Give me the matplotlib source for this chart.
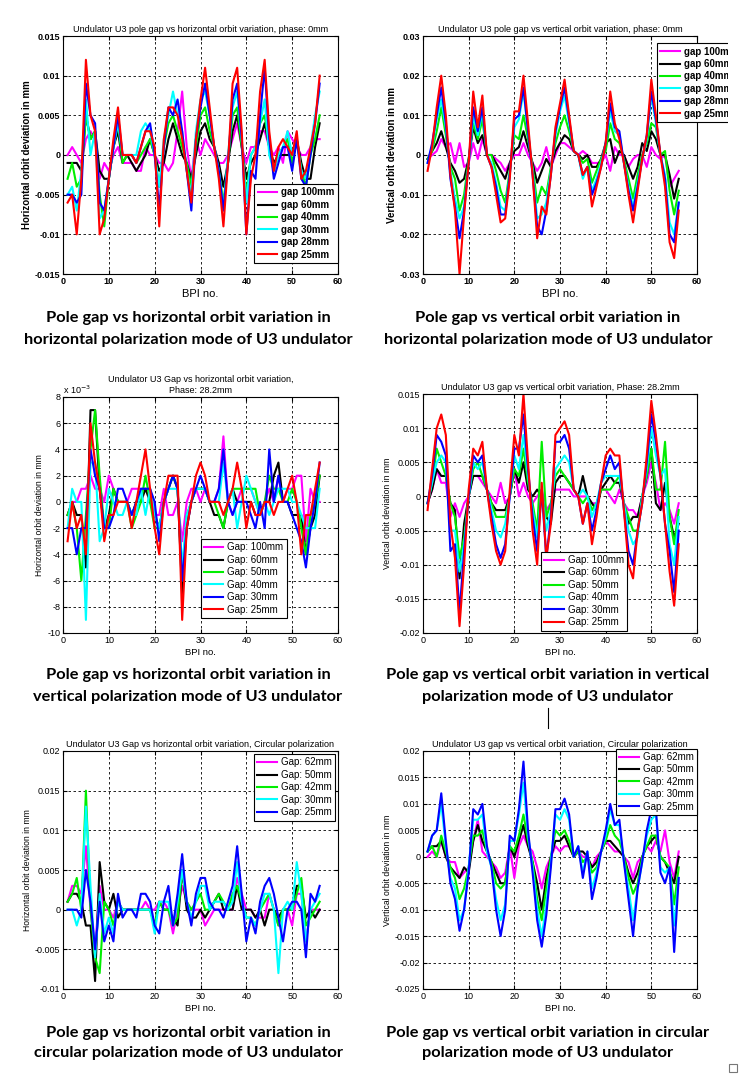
import numpy as np
import matplotlib.pyplot as plt
from matplotlib.ticker import FuncFormatter
from matplotlib.lines import Line2D
from matplotlib.patches import Rectangle

plt.rcParams['font.family'] = ['Liberation Sans', 'DejaVu Sans']

bpi = np.arange(1, 57)

# values below are in units of 1e-3 mm
# horizontal orbit, horizontal polarization (phase 0)
hh_100 = [0,1,0,-1,2,3,2,-3,-1,-2, 0,1,-1,-1,-1,-2,-2,1,0,0, -1,-1,-2,-1,3,8,1,-3,2,0, 2,1,0,-1,-1,0,2,4,1,-1, 1,1,3,3,1,0,1,-1,3,2, 1,0,0,1,2,2]
hh_60 = [-1,-1,-1,-2,5,2,3,-2,-3,-3, 1,3,-1,0,-1,-2,-1,0,2,0, -2,-1,2,4,2,0,-1,-3,0,3, 4,2,1,-1,-4,-1,3,5,1,-3, -1,0,2,4,1,-1,0,0,0,0, 2,-1,-3,-3,1,4]
hh_40 = [-3,-1,-4,-3,5,2,3,-5,-9,-3, 1,4,-1,0,0,-1,0,1,2,0, -4,1,4,5,3,1,-1,-4,1,5, 6,3,1,-2,-6,-1,5,6,1,-5, 0,1,4,5,1,-2,0,1,2,-1, 2,-2,-4,0,2,5]
hh_30 = [-5,-4,-7,-2,7,0,3,-8,-7,-3, 1,4,0,0,0,0,3,4,3,0, -4,2,5,8,5,3,-2,-5,3,7, 8,5,1,-2,-7,0,6,8,2,-6, 0,1,4,7,0,-2,0,1,3,0, 2,-2,-3,1,5,8]
hh_28 = [-5,-5,-6,-5,9,5,4,-6,-7,-3, 1,5,0,0,0,-1,1,3,4,0, -7,1,6,5,7,3,-2,-7,2,6, 9,5,1,-2,-7,-1,7,9,2,-10, -2,-3,5,11,2,-3,-1,1,1,-2, 2,-3,-4,0,4,9]
hh_25 = [-6,-5,-10,-3,12,5,3,-10,-8,-3, 2,6,0,0,0,-1,1,3,3,1, -9,2,6,6,5,2,-2,-6,2,7, 11,6,1,-3,-9,-1,9,11,3,-10, -3,0,8,12,3,-2,1,2,1,0, 3,-3,-2,1,4,10]

# vertical orbit, horizontal polarization (phase 0)
hv_100 = [-1,0,1,4,2,3,-2,3,-3,-2, 3,-1,4,0,0,-1,-2,-4,-2,0, 0,3,0,-2,-4,-2,2,-3,0,3, 3,2,1,0,1,0,-2,-2,-2,0, -4,2,0,0,-3,-1,0,0,-3,2, 0,-1,0,-8,-6,-4]
hv_60 = [-1,1,3,6,2,-2,-4,-7,-6,-1, 7,3,5,0,0,-2,-4,-6,-2,1, 2,6,2,-2,-7,-4,-1,-3,1,3, 5,4,1,0,-1,0,-3,-3,-1,3, 4,-2,1,0,-3,-6,-3,3,1,6, 4,0,0,-5,-11,-6]
hv_40 = [-1,1,6,12,5,-3,-6,-14,-10,-1, 8,4,9,0,0,-4,-9,-12,-4,5, 4,10,4,-3,-12,-8,-10,-3,3,7, 10,6,1,0,-2,-1,-7,-4,-1,1, 8,4,3,-1,-6,-11,-5,0,3,8, 7,0,1,-9,-15,-9]
hv_30 = [-2,2,9,14,7,-4,-11,-16,-13,-2, 10,5,11,0,-2,-7,-13,-14,-5,7, 9,16,6,-4,-16,-15,-12,-4,5,11, 15,8,1,0,-6,-3,-9,-6,-2,3, 11,6,5,-2,-8,-13,-7,-1,4,15, 8,0,-5,-17,-20,-12]
hv_28 = [-2,3,10,17,8,-6,-13,-21,-14,-2, 12,6,12,0,-3,-8,-15,-15,-5,9, 10,17,6,-5,-18,-20,-14,-5,6,12, 17,9,1,0,-5,-3,-10,-7,-3,3, 13,7,6,-2,-9,-14,-8,-1,5,16, 9,0,-6,-20,-22,-12]
hv_25 = [-4,2,12,20,10,-5,-14,-30,-15,-2, 16,7,15,0,-3,-10,-17,-16,-6,11, 11,20,8,-5,-21,-13,-15,-5,7,13, 19,10,1,0,-5,-3,-13,-8,-3,3, 16,8,4,-2,-10,-17,-9,-1,5,19, 10,0,-8,-22,-26,-14]

# horizontal orbit, vertical polarization (phase 28.2)
vh_100 = [-1,0,0,1,1,2,1,1,0,2, 1,0,0,0,1,1,1,1,1,-1, -1,1,-1,-1,0,-3,0,1,1,0, 1,0,0,1,5,0,-1,0,1,1, 1,0,-1,0,1,0,2,0,1,1, 2,2,-3,1,0,0]
vh_60 = [-1,0,-1,-1,-5,7,7,1,-2,-1, 1,0,0,0,-1,0,0,1,0,-1, -2,0,1,2,1,-7,-2,0,1,1, 1,0,-1,-1,-2,0,1,0,0,0, 0,-1,-1,0,0,2,3,0,0,-1, -1,-1,-4,-2,-1,2]
vh_50 = [-1,0,-2,-6,-1,4,7,2,-2,-2, 1,0,0,0,-2,-1,0,2,0,-2, -2,0,1,2,1,-6,-1,0,1,1, 1,0,0,-1,-2,0,1,1,1,1, 1,1,-1,0,2,1,1,0,0,1, 0,-2,-4,-1,0,2]
vh_40 = [-2,1,0,0,-9,3,3,-3,-2,1, 0,-1,-1,0,-1,-1,1,-1,1,-1, -2,0,1,1,1,-5,-1,0,1,1, 1,0,0,0,3,0,1,-2,0,2, 1,0,-1,0,-1,0,1,1,1,0, 0,-1,-2,-2,-2,1]
vh_30 = [-2,-2,-4,-2,-2,4,2,1,-2,-2, -1,1,1,0,-1,0,1,1,1,0, -3,0,1,2,1,-6,-2,0,1,2, 1,0,0,1,4,0,-1,0,0,0, -1,-2,0,-2,4,0,2,0,0,-1, -2,-3,-5,-2,0,3]
vh_25 = [-3,0,-2,-1,-4,6,3,1,-3,-1, -1,0,0,0,-2,0,2,4,1,-2, -4,0,2,2,2,-9,-2,0,2,3, 2,0,0,0,-1,0,1,3,1,-2, 0,-1,-1,0,0,-1,0,0,1,2, 0,-4,-1,-1,1,3]

# vertical orbit, vertical polarization (phase 28.2)
vv_100 = [-1,1,4,2,2,-3,-1,-3,-1,0, 3,3,2,1,0,-1,2,-1,0,4, 0,2,0,-1,0,1,-2,-1,1,1, 1,1,0,0,0,0,-1,-1,1,1, 0,-1,1,-1,-2,-2,-3,0,2,5, 2,-2,-1,-2,-4,-1]
vv_60 = [-1,1,4,3,3,-1,-2,-12,-4,0, 3,3,3,1,-1,-2,-2,-2,0,4, 2,5,1,0,1,0,-3,-4,2,3, 3,2,1,0,3,0,-1,-2,1,2, 3,2,2,-1,-4,-3,-3,0,3,7, -1,-2,2,-3,-6,-4]
vv_50 = [-1,2,7,5,3,-1,-3,-9,-6,0, 4,5,3,1,-1,-3,-3,-3,0,4, 3,7,2,-1,-5,8,-3,-1,3,4, 3,2,1,0,-1,0,-2,-1,1,1, 1,2,3,-1,-3,-5,-5,0,3,7, 1,1,8,-3,-7,-2]
vv_40 = [-1,2,5,6,5,-5,-5,-11,-7,0, 5,4,5,1,-2,-5,-6,-4,0,6, 4,9,3,-2,-6,1,-5,-2,4,5, 6,5,1,0,1,0,-3,-1,2,3, 3,3,3,-1,-5,-7,-6,0,4,10, 6,3,4,-7,-10,-3]
vv_30 = [-1,3,9,8,6,-8,-7,-17,-8,0, 6,5,6,1,-3,-7,-9,-7,0,7, 7,12,4,-3,-8,1,-9,-3,8,8, 9,7,1,0,-4,-1,-5,-2,2,4, 6,4,5,-2,-8,-10,-5,-1,5,12, 8,3,-4,-8,-14,-5]
vv_25 = [-2,4,10,12,9,-4,-9,-19,-10,1, 7,6,8,1,-4,-8,-10,-8,1,9, 6,15,5,-5,-10,2,-9,-4,9,10, 11,9,1,0,-4,-1,-7,-3,2,6, 7,6,6,-2,-10,-12,-5,-1,6,14, 9,3,-4,-11,-16,-7]

# horizontal orbit, circular polarization
ch_62 = [1,3,3,2,8,0,-5,3,0,0, -1,1,0,0,0,0,0,1,0,0, 1,1,0,-3,0,3,1,0,0,0, -2,-1,0,0,0,0,0,4,2,0, 0,-1,-1,-1,2,0,-2,0,0,-2, 2,2,-4,0,0,0]
ch_50 = [1,2,2,1,-2,-2,-9,6,1,0, 2,-1,0,0,0,0,0,0,0,-2, 1,0,0,-1,-2,5,0,-1,-1,0, -1,0,1,2,0,0,0,3,0,0, 0,-1,0,-2,0,0,-1,0,0,0, 3,3,-1,0,-1,0]
ch_42 = [1,2,4,0,15,0,-6,-8,1,0, -2,1,0,0,0,0,0,0,0,-2, 1,0,0,-2,-1,5,1,0,1,2, 0,0,1,2,1,0,2,3,1,-1, -1,-2,0,1,2,0,-2,0,0,0, 2,4,-2,-1,0,1]
ch_30 = [0,0,-2,0,13,3,-6,2,-3,-1, -3,1,0,0,0,0,0,0,0,-3, 1,1,1,-2,1,5,1,-1,1,3, 3,0,1,1,1,0,1,6,1,-1, -1,-2,0,2,2,0,-8,0,1,0, 6,2,-4,0,1,2]
ch_25 = [0,0,0,-1,5,1,-5,1,-4,-2, -4,2,-1,0,0,-1,2,2,1,-2, -3,1,3,-2,2,7,1,-2,2,4, 4,1,0,0,-1,1,3,8,2,-4, -1,-3,1,3,4,2,-1,-4,0,1, 1,0,-6,2,1,3]

# vertical orbit, circular polarization
cv_62 = [0,1,0,3,0,-1,-1,-4,-3,-2, 3,7,1,0,-1,-2,-4,-3,2,-4, 2,4,2,1,-2,-6,-2,0,2,1, 2,2,0,1,0,0,-2,0,1,3, 2,1,1,0,-1,-4,-1,0,2,1, 3,1,5,-1,-4,1]
cv_50 = [1,2,2,3,0,-2,-3,-4,-2,-3, 3,6,3,1,-1,-3,-5,-5,2,0, 3,6,2,-1,-5,-10,-4,0,3,3, 4,2,0,1,1,0,-2,-1,1,3, 3,2,1,0,-3,-5,-3,0,2,3, 4,0,-1,-3,-5,0]
cv_42 = [1,2,0,4,1,-2,-4,-8,-6,-2, 4,4,5,1,-1,-5,-6,-5,2,1, 4,8,3,-1,-8,-12,-6,0,5,4, 5,3,0,1,-1,0,-3,-2,1,3, 6,4,3,0,-4,-7,-5,0,2,4, 4,0,-1,-2,-9,-2]
cv_30 = [1,4,5,10,2,-4,-6,-12,-10,-2, 7,7,8,1,-2,-8,-12,-9,3,3, 8,14,4,-2,-10,-15,-9,-1,8,7, 9,7,0,2,-3,1,-6,-3,1,4, 9,6,6,-1,-6,-12,-6,-1,4,7, 8,-2,-3,-2,-13,-4]
cv_25 = [1,4,5,12,3,-5,-8,-14,-10,-3, 9,8,10,2,-2,-10,-15,-10,4,3, 9,18,5,-3,-12,-17,-11,-2,9,9, 11,8,0,2,-4,1,-8,-4,1,5, 10,6,7,-1,-8,-15,-6,-1,5,9, 9,-3,-5,-2,-18,-4]

lab_hp = ['gap 100mm', 'gap 60mm', 'gap 40mm', 'gap 30mm', 'gap 28mm', 'gap 25mm']
lab_vp = ['Gap: 100mm', 'Gap: 60mm', 'Gap: 50mm', 'Gap: 40mm', 'Gap: 30mm', 'Gap: 25mm']
lab_cp = ['Gap: 62mm', 'Gap: 50mm', 'Gap: 42mm', 'Gap: 30mm', 'Gap: 25mm']
col6 = ['#ff00ff', 'black', '#00ee00', '#00ffff', '#0000ff', '#ff0000']
col5 = ['#ff00ff', 'black', '#00ee00', '#00ffff', '#0000ff']

W, H = 750, 1079
fig = plt.figure(figsize=(W / 100, H / 100), dpi=100)


def box(l, t, r, b):
    return [l / W, 1 - b / H, (r - l) / W, (b - t) / H]


def panel(rect, series, labels, colors, ylo, yhi, ystep, title, ylabel,
          bold, leg_loc, leg_anchor, leg_bold, scale=1e-3, lblsize=6.5):
    ax = fig.add_axes(rect)
    for vals, lab, c in zip(series, labels, colors):
        ax.plot(bpi, np.array(vals) * scale, color=c, lw=1.5, label=lab)
    ax.set_xlim(0, 60)
    ax.set_ylim(ylo, yhi)
    ax.set_xticks(np.arange(0, 61, 10))
    ax.set_yticks(np.arange(ylo, yhi + ystep / 2, ystep))
    ax.yaxis.set_major_formatter(FuncFormatter(lambda v, p: '%g' % round(v, 6)))
    ax.grid(True, color='k', ls=(0, (3, 3)), lw=0.6)
    ax.tick_params(direction='in', top=True, right=True, length=3,
                   labelsize=lblsize, pad=2)
    w = 'bold' if bold else 'normal'
    for t in ax.get_xticklabels() + ax.get_yticklabels():
        t.set_fontweight(w)
    for s in ax.spines.values():
        s.set_linewidth(0.8)
    ax.set_title(title, fontsize=6.5, pad=3)
    ax.set_ylabel(ylabel, fontsize=7 if bold else 6.2, fontweight=w, labelpad=2)
    ax.set_xlabel('BPI no.', fontsize=8 if bold else 6.8, labelpad=2)
    leg = ax.legend(loc=leg_loc, bbox_to_anchor=leg_anchor, fancybox=False,
                    framealpha=1, edgecolor='black', borderaxespad=0,
                    prop={'size': 7, 'weight': 'bold' if leg_bold else 'normal'},
                    handlelength=2.0, handletextpad=0.4, labelspacing=0.25,
                    borderpad=0.35)
    leg.get_frame().set_linewidth(0.8)
    return ax


panel(box(63, 36, 338, 274), [hh_100, hh_60, hh_40, hh_30, hh_28, hh_25], lab_hp, col6,
      -0.015, 0.015, 0.005,
      'Undulator U3 pole gap vs horizontal orbit variation, phase: 0mm',
      'Horizontal orbit deviation in mm', True, 'lower right', (1.0, 0.046), True)

panel(box(423, 36, 697, 274), [hv_100, hv_60, hv_40, hv_30, hv_28, hv_25], lab_hp, col6,
      -0.03, 0.03, 0.01,
      'Undulator U3 pole gap vs vertical orbit variation, phase: 0mm',
      'Vertical orbit deviation in mm', True, 'upper left', (0.854, 0.97), True)

ax3 = panel(box(63, 397, 338, 633), [vh_100, vh_60, vh_50, vh_40, vh_30, vh_25], lab_vp, col6,
            -10, 8, 2,
            'Undulator U3 Gap vs horizontal orbit variation,\nPhase: 28.2mm',
            'Horizontal orbit deviation in mm', False, 'upper left', (0.50, 0.398), False,
            scale=1)
ax3.text(0.0, 1.005, r'x 10$^{-3}$', transform=ax3.transAxes, fontsize=6.5,
         ha='left', va='bottom')

panel(box(423, 394, 697, 633), [vv_100, vv_60, vv_50, vv_40, vv_30, vv_25], lab_vp, col6,
      -0.02, 0.015, 0.005,
      'Undulator U3 gap vs vertical orbit variation, Phase: 28.2mm',
      'Vertical orbit deviation in mm', False, 'lower left', (0.43, 0.01), False)

panel(box(63, 751, 338, 989), [ch_62, ch_50, ch_42, ch_30, ch_25], lab_cp, col5,
      -0.01, 0.02, 0.005,
      'Undulator U3 Gap vs horizontal orbit variation, Circular polarization',
      'Horizontal orbit deviation in mm', False, 'upper right', (0.989, 0.987), False)

panel(box(423, 751, 697, 989), [cv_62, cv_50, cv_42, cv_30, cv_25], lab_cp, col5,
      -0.025, 0.02, 0.005,
      'Undulator U3 gap vs vertical orbit variation, Circular polarization',
      'Vertical orbit deviation in mm', False, 'upper right', (1.0, 1.01), False)

# the source image is cropped just right of the top-right legend
fig.add_artist(Rectangle((728 / W, 1 - 130 / H), 22 / W, 100 / H, facecolor='white',
                         edgecolor='none', zorder=10))

# captions
cap = dict(ha='center', va='center', fontsize=11.8, fontweight='bold',
           family=['Lato', 'DejaVu Sans'])
captions = [
    (188, 318, 'Pole gap vs horizontal orbit variation in'),
    (188, 340, 'horizontal polarization mode of U3 undulator'),
    (548, 318, 'Pole gap vs vertical orbit variation in'),
    (548, 340, 'horizontal polarization mode of U3 undulator'),
    (188, 675, 'Pole gap vs horizontal orbit variation in'),
    (188, 697, 'vertical polarization mode of U3 undulator'),
    (548, 675, 'Pole gap vs vertical orbit variation in vertical'),
    (548, 697, 'polarization mode of U3 undulator'),
    (188, 1033, 'Pole gap vs horizontal orbit variation in'),
    (188, 1053, 'circular polarization mode of U3 undulator'),
    (548, 1033, 'Pole gap vs vertical orbit variation in circular'),
    (548, 1053, 'polarization mode of U3 undulator'),
]
for cx, cy, s in captions:
    fig.text(cx / W, 1 - cy / H, s, **cap)

fig.add_artist(Line2D([548 / W, 548 / W], [1 - 708 / H, 1 - 728 / H], color='black', lw=0.8))
fig.add_artist(Rectangle((729 / W, 1 - 1072 / H), 8 / W, 8 / H, fill=False,
                         edgecolor='#777777', lw=0.8))

fig.savefig('out.png', dpi=100)
